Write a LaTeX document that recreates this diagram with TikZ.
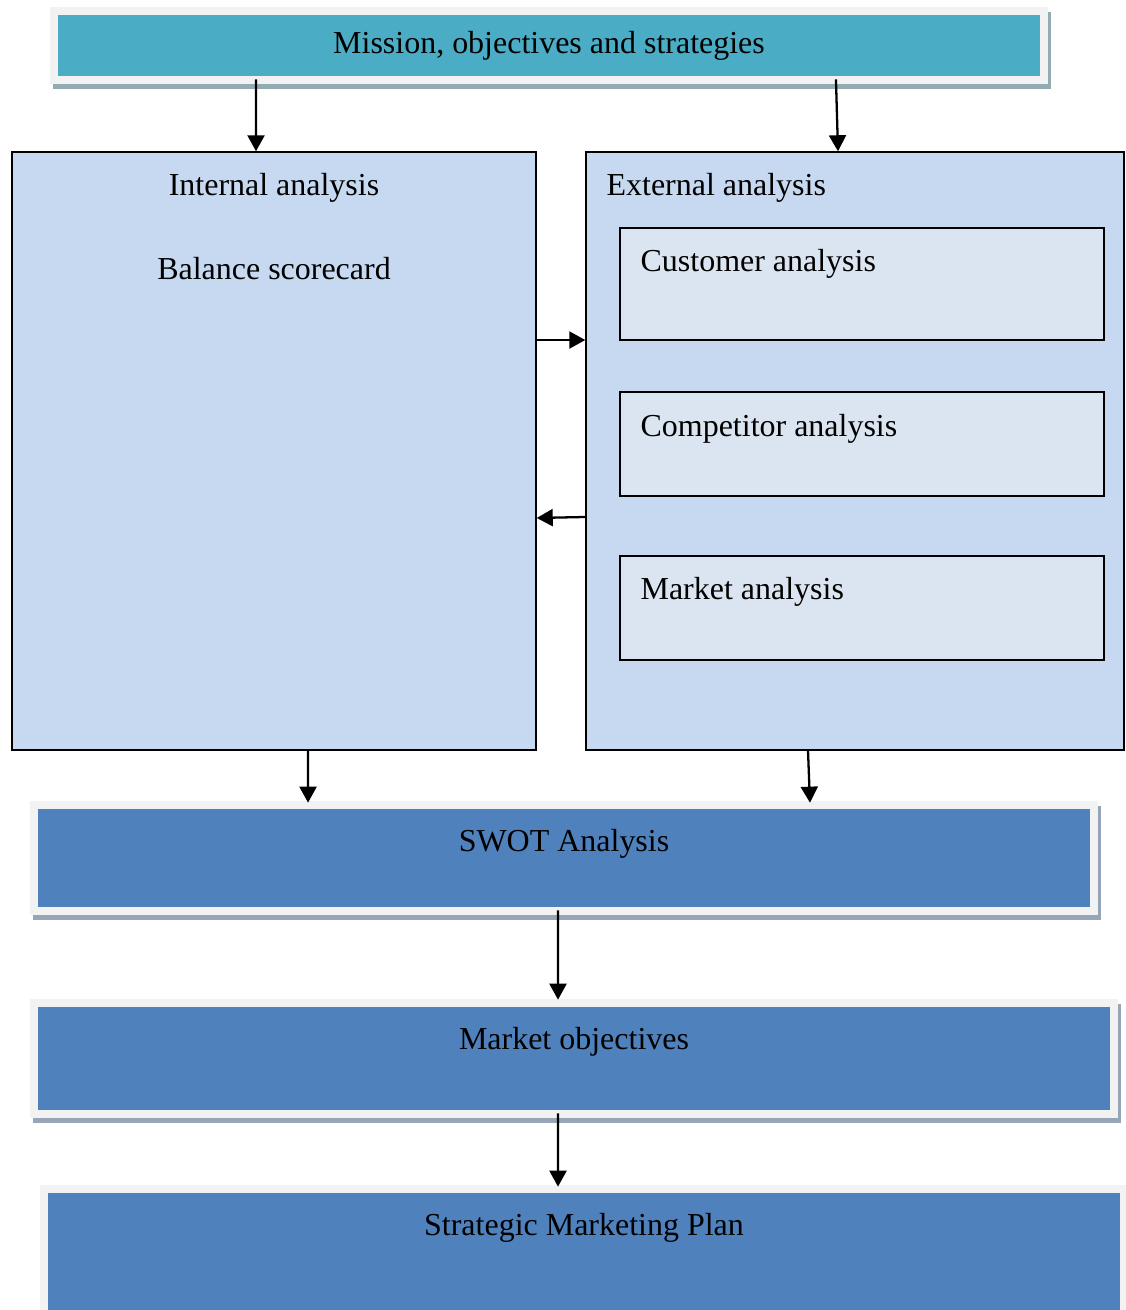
\documentclass[tikz,border=0pt]{standalone}
\usepackage{fontspec}
\setmainfont{Liberation Serif}
\usetikzlibrary{arrows.meta, positioning, backgrounds}
\definecolor{missionteal}{HTML}{4BACC6}
\definecolor{planblue}{HTML}{4F81BD}
\definecolor{framegray}{HTML}{F2F2F2}
\definecolor{tealshadow}{HTML}{93ACB4}
\definecolor{blueshadow}{HTML}{97A5B8}
\definecolor{boxblue}{HTML}{C6D9F0}
\definecolor{subblue}{HTML}{DBE5F1}

\begin{document}
\begin{tikzpicture}[x=0.02cm, y=-0.02cm,
    every node/.style={font=\fontsize{18.2}{21}\selectfont, inner sep=0pt},
    banner/.style={fill=#1},
    bigbox/.style={draw=black, line width=0.9pt, fill=boxblue, minimum height=11.96cm},
    subbox/.style={draw=black, line width=0.9pt, fill=subblue, minimum width=9.68cm},
    arr/.style={-{Triangle[length=0.32cm, width=0.34cm]}, line width=1.3pt}]
    \useasboundingbox (0,0) rectangle (1125,1310);
    \clip (0,0) rectangle (1125,1310);

    % boxes
    \node[banner=missionteal, minimum width=19.64cm, minimum height=1.22cm] (mission) at (549,45.5) {Mission, objectives and strategies};
    \node[bigbox, minimum width=10.48cm] (intl) at (274,451) {};
    \node[bigbox, minimum width=10.76cm] (ext) at (855,451) {};
    \node[subbox, minimum height=2.24cm] (cust) at (862,284) {};
    \node[subbox, minimum height=2.08cm] (comp) at (862,444) {};
    \node[subbox, minimum height=2.08cm] (mkt) at (862,608) {};
    \node[banner=planblue, minimum width=21.04cm, minimum height=1.96cm] (swot) at (564,858) {};
    \node[banner=planblue, minimum width=21.44cm, minimum height=2.06cm] (objectives) at (574,1058.5) {};
    \node[banner=planblue, minimum width=21.44cm, minimum height=2.5cm] (plan) at (584,1255.5) {};

    % texts
    \node[anchor=base] (inttitle) at ([yshift=-0.88cm]intl.north) {Internal analysis};
    \node[anchor=base] (bsc) at ([yshift=-2.56cm]intl.north) {Balance scorecard};
    \node[anchor=base west] (exttitle) at ([xshift=0.42cm,yshift=-0.88cm]ext.north west) {External analysis};
    \node[anchor=base west] (custtext) at ([xshift=0.42cm,yshift=-0.88cm]cust.north west) {Customer analysis};
    \node[anchor=base west] (comptext) at ([xshift=0.42cm,yshift=-0.9cm]comp.north west) {Competitor analysis};
    \node[anchor=base west] (mkttext) at ([xshift=0.42cm,yshift=-0.88cm]mkt.north west) {Market analysis};
    \node[anchor=base] (swottext) at ([yshift=-0.86cm]swot.north) {SWOT Analysis};
    \node[anchor=base] (objtext) at ([yshift=-0.86cm]objectives.north) {Market objectives};
    \node[anchor=base] (plantext) at ([yshift=-0.86cm]plan.north) {Strategic Marketing Plan};

    % frames and shadows
    \begin{scope}[on background layer]
        \fill[tealshadow] ([shift={(-5,-3)}]mission.north west) rectangle ([shift={(11,13)}]mission.south east);
        \fill[framegray] ([shift={(-8,-8)}]mission.north west) rectangle ([shift={(8,8)}]mission.south east);
        \foreach \b in {swot,objectives,plan} {
            \fill[blueshadow] ([shift={(-5,-3)}]\b.north west) rectangle ([shift={(11,13)}]\b.south east);
            \fill[framegray] ([shift={(-8,-8)}]\b.north west) rectangle ([shift={(8,8)}]\b.south east);
        }
    \end{scope}

    % arrows
    \draw[arr] ([xshift=-5.86cm,yshift=-0.06cm]mission.south) -- ([xshift=-0.36cm]intl.north);
    \draw[arr] ([xshift=5.74cm,yshift=-0.06cm]mission.south) -- ([xshift=-0.34cm]ext.north);
    \draw[arr] ([yshift=2.22cm]intl.east) -- ([yshift=2.22cm]ext.west);
    \draw[arr] ([yshift=-1.32cm]ext.west) -- ([yshift=-1.34cm]intl.east);
    \draw[arr] ([xshift=0.68cm]intl.south) -- ([xshift=-5.12cm,yshift=0.12cm]swot.north);
    \draw[arr] ([xshift=-0.94cm]ext.south) -- ([xshift=4.92cm,yshift=0.12cm]swot.north);
    \draw[arr] ([xshift=-0.12cm,yshift=-0.06cm]swot.south) -- ([xshift=-0.32cm,yshift=0.14cm]objectives.north);
    \draw[arr] ([xshift=-0.32cm,yshift=-0.06cm]objectives.south) -- ([xshift=-0.52cm,yshift=0.12cm]plan.north);
\end{tikzpicture}
\end{document}
